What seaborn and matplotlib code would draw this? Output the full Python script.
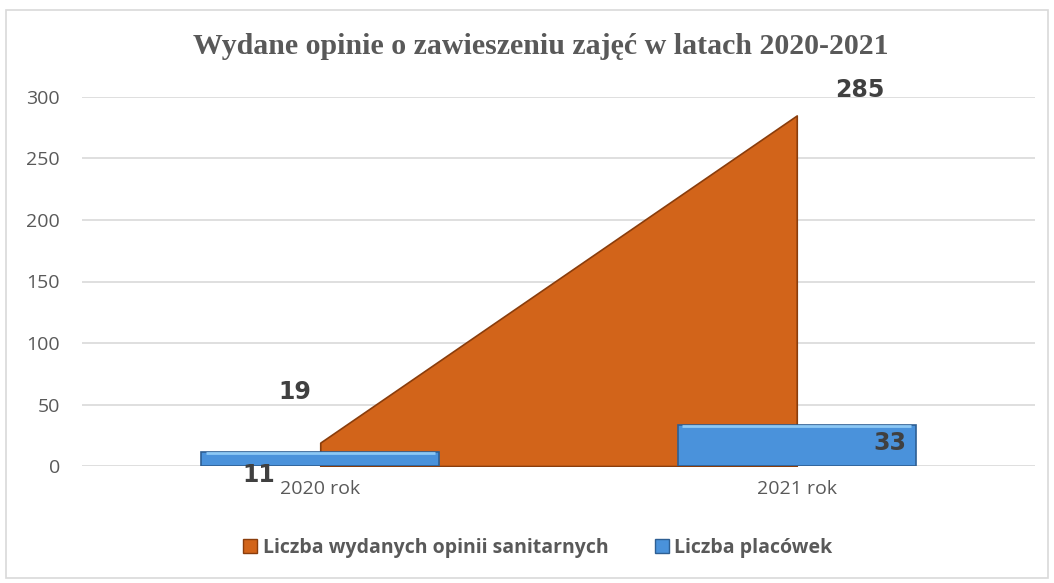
import numpy as np
import pandas as pd
import matplotlib.pyplot as plt
import seaborn as sns
from matplotlib.patches import Rectangle
from matplotlib.lines import Line2D

# data
years = ["2020 rok", "2021 rok"]
opinie = [19, 285]      # Liczba wydanych opinii sanitarnych (area)
placowki = [11, 33]     # Liczba placówek (bars)
y_ticks = [0, 50, 100, 150, 200, 250, 300]

orange = "#d2641a"
orange_edge = "#8a3d0c"
blue = "#4a92db"
blue_edge = "#2e5f93"
grey_text = "#595959"
label_col = "#404040"

sns.set_style("white")
plt.rcParams["font.family"] = ["Open Sans", "DejaVu Sans"]

fig = plt.figure(figsize=(10.54, 5.83), dpi=100)
ax = fig.add_axes([82 / 1054, 117 / 583, (1035 - 82) / 1054, (466 - 97) / 583])

# outer chart border
fig.patches.append(Rectangle((6 / 1054, 5 / 583), 1042 / 1054, 568 / 583,
                             transform=fig.transFigure, fill=False,
                             edgecolor="#d9d9d9", linewidth=1.2))

df = pd.DataFrame({"rok": years, "opinie": opinie, "placowki": placowki})
xpos = np.arange(len(years))

# orange area between the two category centres
ax.fill_between(xpos, 0, df["opinie"], color=orange, edgecolor=orange_edge,
                linewidth=1.2, zorder=2)

# blue bars
sns.barplot(data=df, x="rok", y="placowki", color=blue, width=0.5,
            edgecolor=blue_edge, linewidth=1.2, saturation=1, ax=ax, zorder=3)
for p in ax.patches:
    x0, w, h = p.get_x(), p.get_width(), p.get_height()
    ax.plot([x0 + 0.01, x0 + w - 0.01], [h - 0.8, h - 0.8], color="#8cc8f5",
            linewidth=2, zorder=4, solid_capstyle="butt")

ax.set_xlim(-0.5, 1.5)
ax.set_ylim(0, 300)
ax.set_yticks(y_ticks)
ax.set_xlabel("")
ax.set_ylabel("")
ax.grid(axis="y", color="#d9d9d9", linewidth=1.2, zorder=0)
ax.set_axisbelow(True)
for s in ax.spines.values():
    s.set_visible(False)
ax.tick_params(axis="y", length=0, pad=16, labelsize=14, labelcolor=grey_text)
ax.tick_params(axis="x", length=0, pad=10, labelsize=14, labelcolor=grey_text)

# value labels
lab = dict(fontsize=17, fontweight="heavy", color=label_col,
           family=["DejaVu Sans"])
ax.text(xpos[0] - 0.053, opinie[0] + 41, str(opinie[0]), ha="center", va="center", **lab)
ax.text(xpos[1] + 0.133, opinie[1] + 21, str(opinie[1]), ha="center", va="center", **lab)
ax.text(xpos[0] - 0.13, placowki[0] - 18, str(placowki[0]), ha="center", va="center", **lab)
ax.text(xpos[1] + 0.196, placowki[1] - 14, str(placowki[1]), ha="center", va="center", **lab)

fig.text(541 / 1054, 1 - 46 / 583, "Wydane opinie o zawieszeniu zajęć w latach 2020-2021",
         ha="center", va="center", fontsize=21.5, fontweight="bold",
         color=grey_text, family=["Liberation Serif", "DejaVu Serif"])

handles = [Line2D([], [], marker="s", linestyle="", markersize=10,
                  markerfacecolor=orange, markeredgecolor=orange_edge),
           Line2D([], [], marker="s", linestyle="", markersize=10,
                  markerfacecolor=blue, markeredgecolor=blue_edge)]
leg = fig.legend(handles, ["Liczba wydanych opinii sanitarnych", "Liczba placówek"],
                 loc="center", bbox_to_anchor=(538 / 1054, 1 - 548 / 583), ncol=2,
                 frameon=False, handlelength=0.7, handletextpad=0.3,
                 columnspacing=2.4, prop={"size": 14, "weight": "bold"})
for t in leg.get_texts():
    t.set_color(grey_text)

fig.savefig("out.png", dpi=100)
